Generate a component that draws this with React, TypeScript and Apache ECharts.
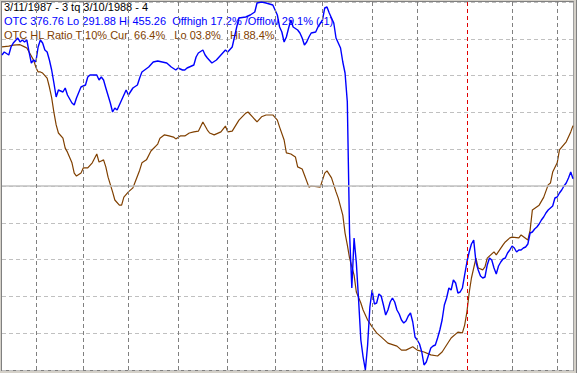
import React, { useEffect, useRef } from "react";
import * as echarts from "echarts";

// Title / legend texts
const titleLine = "3/11/1987 - 3 tq 3/10/1988 - 4";
const otcLine = "OTC 376.76 Lo 291.88 Hi 455.26  Offhigh 17.2% /Offlow 29.1% (-1)";
const hlLine = "OTC HL Ratio T 10% Cur  66.4%   Lo 03.8%   Hi 88.4%";

// OTC range (blue series fills the plot between its low and high)
const otcLow = 291.88;
const otcHigh = 455.26;

// trading-day index of the first session of each month (3/11/1987 = day 0)
const monthNames = ["Apr", "May", "Jun", "Jul", "Aug", "Sep", "Oct", "Nov", "Dec", "Jan", "Feb", "Mar"];
const monthStartDays = [15, 36, 56, 78, 100, 121, 142, 164, 184, 206, 226, 246];
const lastDay = 253;

// OTC HL Ratio (%), [trading day, value]
const hlRatio: [number, number][] = [
  [0, 87.8], [3, 88.0], [5, 88.3], [8, 88.4], [10, 87.8], [11, 87.5], [12, 86.4], [14, 84.2], [15, 82.3],
  [16, 81.0], [17, 81.0], [18, 80.7], [20, 79.3], [21, 76.9], [22, 74.0], [23, 70.0], [24, 66.6], [25, 64.4],
  [27, 63.0], [28, 60.3], [29, 59.2], [31, 56.3], [32, 53.5], [33, 52.7], [35, 53.5], [36, 54.9], [38, 54.9],
  [40, 56.3], [42, 58.7], [43, 56.5], [44, 56.8], [45, 57.1], [46, 55.2], [47, 52.4], [49, 48.4], [50, 46.2],
  [52, 44.8], [53, 44.8], [54, 47.0], [56, 48.4], [58, 49.5], [59, 51.1], [61, 54.3], [62, 56.3], [64, 57.1],
  [66, 59.5], [69, 61.4], [70, 63.0], [72, 63.9], [74, 63.6], [76, 63.3], [77, 62.8], [79, 63.6], [81, 63.6],
  [83, 64.4], [85, 64.7], [87, 64.9], [89, 67.4], [91, 65.2], [92, 64.4], [94, 63.9], [97, 64.7], [99, 66.3],
  [100, 64.7], [102, 64.9], [105, 67.9], [108, 69.8], [109, 70.1], [111, 68.8], [113, 67.4], [115, 68.8],
  [117, 69.3], [120, 69.3], [122, 67.9], [123, 66.0], [125, 62.5], [126, 59.0], [128, 58.7], [130, 57.9],
  [131, 55.2], [133, 54.6], [134, 53.0], [136, 49.7], [137, 50.0], [141, 49.7], [143, 53.5], [144, 54.1],
  [146, 52.2], [148, 48.4], [149, 46.7], [151, 42.1], [152, 37.2], [153, 34.0], [154, 30.4], [156, 25.8],
  [157, 21.2], [159, 18.2], [160, 16.3], [162, 13.6], [164, 11.7], [166, 10.1], [168, 9.0], [171, 7.3],
  [172, 7.1], [175, 6.5], [177, 5.4], [179, 5.4], [182, 6.3], [184, 5.4], [187, 4.9], [190, 4.1], [193, 3.8],
  [195, 4.9], [197, 6.8], [199, 8.7], [202, 10.3], [204, 10.1], [205, 12.2], [206, 15.8], [207, 21.0],
  [208, 25.0], [210, 30.4], [211, 27.7], [213, 27.2], [214, 28.0], [215, 30.4], [218, 32.1], [219, 31.3],
  [222, 34.0], [223, 34.8], [225, 35.9], [226, 36.1], [229, 35.9], [230, 36.7], [233, 35.3], [234, 38.0],
  [235, 43.5], [238, 44.8], [240, 46.9], [242, 50.3], [243, 50.8], [244, 53.8], [246, 56.3], [247, 59.8],
  [250, 62.0], [252, 64.7], [253, 66.4],
];

// OTC composite close, [trading day, value]
const otc: [number, number][] = [
  [0, 431.73], [1, 433.06], [3, 431.73], [4, 435.28], [5, 437.06], [7, 439.28], [8, 437.5], [9, 438.39],
  [10, 437.5], [11, 438.39], [12, 433.0], [13, 428.18], [14, 429.5], [15, 428.62], [16, 435.28], [17, 438.39],
  [18, 437.06], [19, 433.95], [20, 433.06], [21, 429.51], [22, 425.07], [23, 419.3], [24, 413.08], [25, 416.19],
  [27, 415.3], [28, 417.08], [29, 413.97], [31, 410.42], [32, 409.53], [33, 412.64], [35, 417.52], [37, 418.41],
  [38, 421.96], [39, 422.85], [40, 422.85], [42, 422.85], [43, 420.63], [44, 421.96], [45, 420.63], [46, 417.08],
  [48, 410.42], [49, 406.42], [50, 408.2], [51, 407.31], [53, 411.75], [55, 416.19], [56, 413.97], [58, 417.08],
  [60, 418.41], [61, 421.52], [62, 424.18], [65, 426.4], [67, 428.62], [69, 429.07], [71, 428.62], [73, 428.18],
  [75, 426.4], [77, 425.07], [78, 425.96], [80, 425.07], [81, 425.07], [82, 425.96], [83, 426.4], [85, 427.29],
  [86, 430.84], [87, 432.62], [89, 433.95], [90, 431.73], [91, 430.4], [93, 428.18], [95, 429.51], [97, 431.73],
  [99, 433.95], [100, 433.06], [102, 435.28], [103, 439.72], [104, 444.16], [105, 448.16], [108, 448.6],
  [110, 449.49], [112, 450.82], [113, 454.82], [115, 455.26], [117, 454.82], [120, 453.93], [121, 451.71],
  [122, 449.49], [123, 444.16], [124, 441.94], [125, 437.5], [126, 439.72], [127, 443.72], [128, 447.27],
  [129, 444.16], [131, 442.83], [132, 441.5], [133, 439.28], [134, 436.17], [135, 437.5], [136, 439.72],
  [137, 441.5], [139, 441.94], [140, 444.16], [142, 447.27], [143, 452.6], [144, 453.04], [145, 450.38],
  [147, 445.94], [148, 439.28], [149, 437.06], [150, 434.84], [151, 428.62], [152, 423.74], [153, 411.0],
  [154, 352.7], [155, 328.29], [156, 350.48], [157, 339.5], [158, 322.96], [159, 305.2], [160, 297.65],
  [161, 291.88], [162, 302.98], [163, 319.85], [164, 327.4], [165, 321.18], [166, 321.63], [167, 325.62],
  [168, 324.73], [169, 320.74], [170, 316.3], [171, 318.52], [172, 322.07], [173, 323.85], [174, 322.07],
  [175, 318.52], [176, 316.74], [177, 314.08], [178, 312.75], [179, 313.63], [180, 315.85], [181, 317.19],
  [182, 313.19], [183, 306.53], [184, 305.2], [185, 303.42], [186, 299.87], [187, 294.1], [188, 295.43],
  [189, 298.54], [190, 301.65], [191, 302.54], [192, 302.98], [193, 306.09], [194, 309.64], [195, 314.08],
  [196, 320.74], [197, 323.85], [198, 328.29], [199, 327.4], [200, 331.84], [201, 330.51], [202, 326.07],
  [203, 326.51], [204, 328.29], [205, 334.06], [206, 339.83], [207, 344.27], [208, 347.82], [209, 349.6],
  [210, 339.83], [211, 336.28], [212, 333.61], [213, 332.73], [214, 333.17], [215, 338.5], [216, 341.6],
  [217, 340.72], [218, 337.17], [219, 334.5], [220, 338.06], [221, 339.83], [222, 341.16], [223, 341.6],
  [224, 343.82], [225, 345.16], [226, 346.93], [227, 346.04], [228, 344.27], [229, 345.16], [230, 345.16],
  [231, 346.04], [232, 346.49], [233, 347.82], [234, 352.7], [235, 353.15], [236, 354.48], [237, 355.37],
  [238, 356.7], [239, 358.48], [240, 359.81], [241, 361.58], [242, 362.91], [243, 363.8], [244, 364.69],
  [245, 368.24], [246, 368.69], [247, 370.46], [248, 371.79], [249, 373.57], [250, 374.9], [251, 377.12],
  [252, 379.79], [253, 376.76],
];

const FONT = '11px "Liberation Sans", Arial, sans-serif';

export default function App() {
  const ref = useRef<HTMLDivElement>(null);

  useEffect(() => {
    if (!ref.current) return;
    const chart = echarts.init(ref.current, undefined, { renderer: "svg" });

    const monthLines = monthStartDays.map((d, i) => ({
      xAxis: d,
      name: monthNames[i],
      lineStyle: {
        color: monthNames[i] === "Jan" ? "#e00000" : "#808080",
        type: [4, 3] as any,
        width: 1,
      },
    }));

    chart.setOption({
      animation: false,
      backgroundColor: "transparent",
      grid: { left: 2, top: 2, right: 4, bottom: 3 },
      xAxis: { type: "value", min: 0, max: lastDay, show: false },
      yAxis: [
        {
          type: "value",
          min: 0,
          max: 100,
          interval: 10,
          axisLine: { show: false },
          axisTick: { show: false },
          axisLabel: { show: false },
          splitLine: { show: true, lineStyle: { color: "#c0c0c0", type: [4, 3], width: 1 } },
        },
        { type: "value", min: otcLow, max: otcHigh, show: false, splitLine: { show: false } },
      ],
      series: [
        {
          type: "line",
          name: "grid",
          data: [],
          silent: true,
          z: 1,
          markLine: {
            silent: true,
            symbol: "none",
            animation: false,
            label: { show: false },
            data: [
              { yAxis: 50, lineStyle: { color: "#c0c0c0", type: "solid", width: 1.5 } },
              ...monthLines,
            ],
          },
        },
        {
          type: "line",
          name: "OTC HL Ratio",
          data: hlRatio,
          yAxisIndex: 0,
          showSymbol: false,
          symbol: "none",
          lineStyle: { color: "#804000", width: 1.2 },
          z: 3,
        },
        {
          type: "line",
          name: "OTC",
          data: otc,
          yAxisIndex: 1,
          showSymbol: false,
          symbol: "none",
          lineStyle: { color: "#0000ff", width: 1.4 },
          z: 4,
        },
      ],
      graphic: [
        { type: "text", x: 4, y: 7.3, z: 0, silent: true, style: { text: titleLine, fill: "#000000", font: FONT, verticalAlign: "middle" } },
        { type: "text", x: 4, y: 21.3, z: 0, silent: true, style: { text: otcLine, fill: "#0000ff", font: FONT, verticalAlign: "middle" } },
        { type: "text", x: 4, y: 34.7, z: 0, silent: true, style: { text: hlLine, fill: "#804000", font: FONT, verticalAlign: "middle" } },
      ],
    });

    return () => chart.dispose();
  }, []);

  return (
    <div style={{ position: "fixed", left: 0, top: 0, width: 577, height: 373, background: "#d4d0c8", overflow: "hidden" }}>
      <div
        style={{
          position: "absolute",
          left: 1,
          top: 1,
          width: 573,
          height: 370,
          boxSizing: "border-box",
          background: "#ffffff",
          borderLeft: "1px solid #808080",
          borderTop: "1px solid #808080",
          borderRight: "1px solid #a0a0a0",
          borderBottom: "1px solid #808080",
        }}
      />
      <div style={{ position: "absolute", left: 576, top: 0, width: 1, height: 373, background: "#808080" }} />
      <div ref={ref} style={{ position: "absolute", left: 0, top: 0, width: 577, height: 373 }} />
    </div>
  );
}
